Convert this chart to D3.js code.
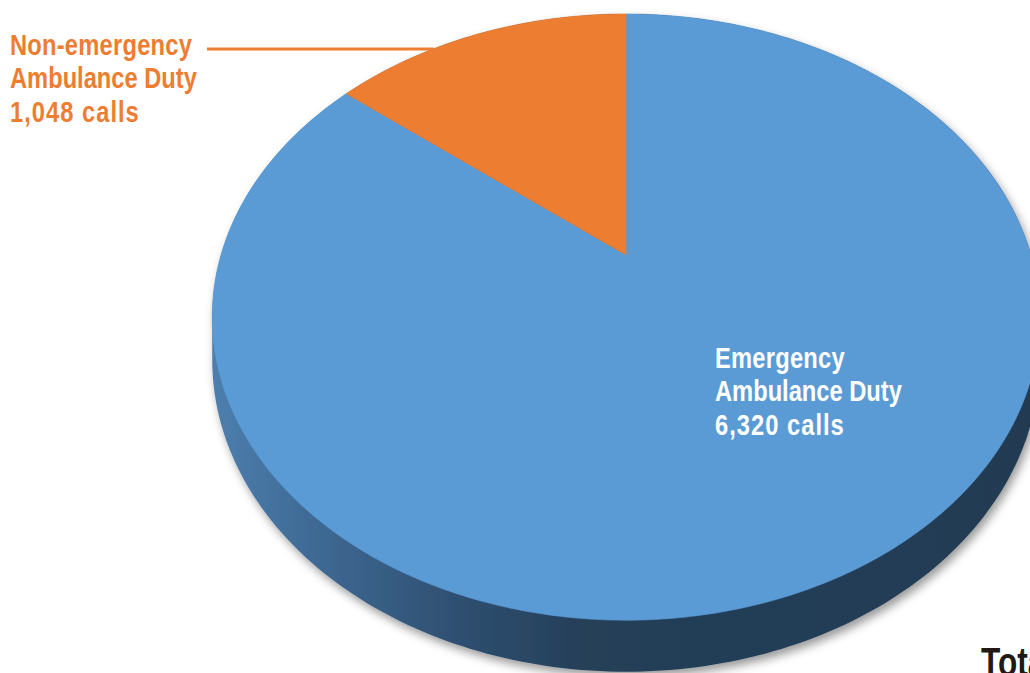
<!DOCTYPE html>
<html>
<head>
<meta charset="utf-8">
<script src="https://cdn.jsdelivr.net/npm/d3@7"></script>
<style>
  html, body { margin: 0; padding: 0; background: #fff; overflow: hidden; }
  text { font-family: "Liberation Sans", Arial, sans-serif; font-weight: bold; }
</style>
</head>
<body>
<svg id="chart" width="1030" height="673"></svg>
<script>
// data
const categories = ["Emergency Ambulance Duty", "Non-emergency Ambulance Duty"];
const calls = [6320, 1048];
const colors = ["#5b9bd5", "#ed7d31"];

const svg = d3.select("#chart");
const width = 1030, height = 673;

// tilted disc, simple perspective projection
const cx = 626, cy = 255;      // centre of the disc on screen
const kx = 405, ky = 290.4;    // horizontal / vertical radius factors
const persp = -0.2048;         // perspective term (front is bigger)
const depth = 41;              // thickness of the disc

function proj(a, h) {
  const u = Math.sin(a), v = -Math.cos(a);
  const den = 1 + persp * v;
  return [cx + kx * u / den, cy + (ky * v + h) / den];
}

const pie = d3.pie().sort(null).startAngle(0).endAngle(2 * Math.PI);
const arcs = pie(calls);

const defs = svg.append("defs");
const grad = defs.append("linearGradient")
  .attr("id", "sideGrad")
  .attr("gradientUnits", "userSpaceOnUse")
  .attr("x1", 212).attr("y1", 0).attr("x2", 1040).attr("y2", 0);
[["0%", "#4d7fae"], ["12%", "#3f6a95"], ["30%", "#2e4f70"], ["45%", "#253f59"], ["100%", "#213b52"]]
  .forEach(s => grad.append("stop").attr("offset", s[0]).attr("stop-color", s[1]));

const shadow = defs.append("filter").attr("id", "shadow")
  .attr("x", "-10%").attr("y", "-10%").attr("width", "120%").attr("height", "130%");
shadow.append("feDropShadow")
  .attr("dx", 3).attr("dy", 5).attr("stdDeviation", 5)
  .attr("flood-color", "#000").attr("flood-opacity", 0.4);

const g = svg.append("g");

// side of the disc: hull of top and bottom rims
const rim = d3.range(0, 360, 1).map(d => d * Math.PI / 180);
const rimPts = rim.map(a => proj(a, 0)).concat(rim.map(a => proj(a, depth)));
const hull = d3.polygonHull(rimPts);
g.append("path")
  .attr("d", "M" + hull.join("L") + "Z")
  .attr("fill", "url(#sideGrad)")
  .attr("filter", "url(#shadow)");

// top face slices
function slicePath(d) {
  const n = Math.max(8, Math.ceil((d.endAngle - d.startAngle) * 90));
  const pts = d3.range(n + 1).map(i => proj(d.startAngle + (d.endAngle - d.startAngle) * i / n, 0));
  return "M" + [cx, cy] + "L" + pts.join("L") + "Z";
}

g.selectAll(".slice")
  .data(arcs)
  .enter().append("path")
  .attr("class", "slice")
  .attr("d", slicePath)
  .attr("fill", (d, i) => colors[i])
  .attr("stroke", (d, i) => colors[i])
  .attr("stroke-width", 0.6);

// leader line for the small slice
const small = arcs[1];
const lineY = 49;
const outer = d3.range(201).map(i => proj(small.startAngle + (small.endAngle - small.startAngle) * i / 200, 0));
const hit = outer.reduce((b, p) => Math.abs(p[1] - lineY) < Math.abs(b[1] - lineY) ? p : b);
svg.append("line")
  .attr("x1", 207).attr("y1", lineY)
  .attr("x2", hit[0]).attr("y2", lineY)
  .attr("stroke", colors[1]).attr("stroke-width", 3);

// condensed look: squeeze text horizontally
const probe = svg.append("text").style("font-size", "30px").text("Ambulance Duty");
const squeeze = 187 / probe.node().getComputedTextLength();
probe.remove();

// labels
const fmt = d3.format(",");
function label(x, y, lines, color) {
  const t = svg.append("text")
    .attr("transform", `translate(${x},${y}) scale(${squeeze},1)`)
    .attr("fill", color)
    .style("font-size", "30px");
  lines.forEach((s, i) => t.append("tspan")
    .attr("x", 0).attr("dy", i ? 33.5 : 0)
    .style("letter-spacing", i === 2 ? "1.3px" : (i === 0 ? "0.3px" : "0px"))
    .text(s));
}
label(10, 55, ["Non-emergency", "Ambulance Duty", fmt(calls[1]) + " calls"], colors[1]);
label(715, 368, ["Emergency", "Ambulance Duty", fmt(calls[0]) + " calls"], "#ffffff");

// total (cut off at the edge)
svg.append("text")
  .attr("transform", `translate(981,676) scale(${squeeze},1)`)
  .attr("fill", "#231815")
  .style("font-size", "40px")
  .text("Total " + fmt(d3.sum(calls)) + " calls");
</script>
</body>
</html>
